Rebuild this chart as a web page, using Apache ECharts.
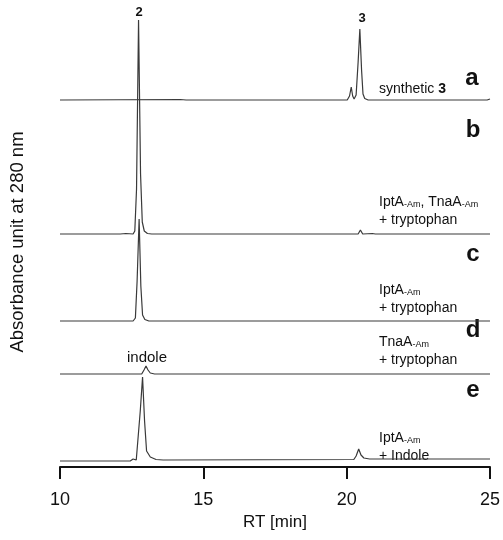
<!DOCTYPE html>
<html>
<head>
<meta charset="utf-8">
<script src="https://cdn.jsdelivr.net/npm/echarts@6/dist/echarts.min.js"></script>
<style>
  html, body { margin: 0; padding: 0; background: #fff; }
  #chart { width: 503px; height: 540px; }
</style>
</head>
<body>
<div id="chart"></div>
<script>
// x ticks (RT in min)
var xTicks = [10, 15, 20, 25];

// chromatogram traces, [RT, signal above own baseline]
var traceA = [[10, 0], [14.2, 0.5], [14.4, 0], [20.02, 0], [20.1, 4], [20.16, 13], [20.21, 4], [20.26, 1],
  [20.33, 5], [20.4, 38], [20.46, 71], [20.52, 30], [20.57, 6], [20.63, 1.5], [20.75, 0], [24.9, 0], [25, 1]];
var traceB = [[10, 0], [12.0, 0], [12.05, 1], [12.1, 0], [12.3, 0.5], [12.55, 0], [12.61, 3], [12.67, 45],
  [12.74, 214], [12.81, 60], [12.87, 12], [12.94, 3], [13.05, 0.5], [13.2, 0], [15.2, 0], [15.25, 1], [15.3, 0],
  [20.4, 0], [20.48, 4], [20.56, 0], [20.9, 0.5], [21.0, 0], [25, 0]];
var traceC = [[10, 0], [12.55, 0], [12.63, 3], [12.69, 40], [12.76, 102], [12.82, 35], [12.88, 6],
  [12.96, 1.5], [13.1, 0], [20.45, 0], [20.5, -1], [20.55, 0], [25, 0]];
var traceD = [[10, 0], [12.85, 0], [12.93, 4], [13.0, 8], [13.07, 4], [13.15, 1], [13.3, 0],
  [20.45, 0], [20.5, -1], [20.55, 0], [25, 0]];
var traceE = [[10, 0], [12.45, 0], [12.55, 2], [12.6, 3], [12.66, 1], [12.72, 3], [12.8, 50], [12.88, 84],
  [12.95, 40], [13.02, 10], [13.15, 4], [13.35, 1.5], [13.6, 1], [20.25, 1.5], [20.33, 5], [20.42, 12],
  [20.5, 6], [20.6, 3], [20.8, 2], [25, 2]];

var traces = [traceA, traceB, traceC, traceD, traceE];
// stacking offsets of each trace (same units as the signal)
var offsets = [367, 233, 146, 93, 6];

var chart = echarts.init(document.getElementById('chart'));

var series = traces.map(function (t, i) {
  return {
    type: 'line',
    data: t.map(function (p) { return [p[0], p[1] + offsets[i]]; }),
    showSymbol: false,
    smooth: false,
    lineStyle: { color: '#3a3a3a', width: 1.2 },
    z: 2
  };
});

var annot = { fontFamily: 'Liberation Sans, Arial', fontSize: 14, fill: '#111' };
var rich = {
  sub: { fontSize: 9, fontFamily: 'Liberation Sans, Arial', verticalAlign: 'bottom', padding: [6, 0, 0, 0] },
  n: { fontSize: 14, fontFamily: 'Liberation Sans, Arial' },
  b: { fontSize: 14, fontFamily: 'Liberation Sans, Arial', fontWeight: 'bold' }
};

function txt(x, y, s, extra) {
  var st = Object.assign({ text: s, rich: rich }, annot, extra || {});
  return { type: 'text', x: x, y: y, style: st };
}

var panelLetters = [['a', 472, 78], ['b', 473, 130], ['c', 473, 254], ['d', 473, 330], ['e', 473, 390]];

var graphics = panelLetters.map(function (l) {
  return {
    type: 'text', x: l[1], y: l[2],
    style: { text: l[0], fontFamily: 'Liberation Sans, Arial', fontWeight: 'bold', fontSize: 24,
      fill: '#111', align: 'center', verticalAlign: 'middle' }
  };
});

graphics = graphics.concat([
  txt(379, 89, '{n|synthetic }{b|3}', { verticalAlign: 'middle' }),
  txt(379, 202, '{n|IptA}{sub|-Am}{n|, TnaA}{sub|-Am}', { verticalAlign: 'middle' }),
  txt(379, 220, '+ tryptophan', { verticalAlign: 'middle' }),
  txt(379, 290, '{n|IptA}{sub|-Am}', { verticalAlign: 'middle' }),
  txt(379, 308, '+ tryptophan', { verticalAlign: 'middle' }),
  txt(379, 342, '{n|TnaA}{sub|-Am}', { verticalAlign: 'middle' }),
  txt(379, 360, '+ tryptophan', { verticalAlign: 'middle' }),
  txt(379, 438, '{n|IptA}{sub|-Am}', { verticalAlign: 'middle' }),
  txt(379, 456, '+ Indole', { verticalAlign: 'middle' }),
  txt(362, 18, '3', { fontWeight: 'bold', fontSize: 13, align: 'center', verticalAlign: 'middle', rich: null }),
  txt(139, 12, '2', { fontWeight: 'bold', fontSize: 13, align: 'center', verticalAlign: 'middle', rich: null }),
  txt(147, 358, 'indole', { fontSize: 15, align: 'center', verticalAlign: 'middle', rich: null }),
  {
    type: 'text', x: 18, y: 242, rotation: Math.PI / 2,
    style: { text: 'Absorbance unit at 280 nm', fontFamily: 'Liberation Sans, Arial', fontSize: 18.5,
      fill: '#111', align: 'center', verticalAlign: 'middle' }
  }
]);

var option = {
  animation: false,
  grid: { left: 60, right: 10, top: 0, bottom: 73 },
  xAxis: {
    type: 'value',
    min: xTicks[0],
    max: xTicks[xTicks.length - 1],
    interval: 5,
    name: 'RT [min]',
    nameLocation: 'middle',
    nameGap: 42,
    nameTextStyle: { fontFamily: 'Liberation Sans, Arial', fontSize: 17, color: '#111' },
    axisLine: { lineStyle: { color: '#111', width: 2 } },
    axisTick: { length: 12, lineStyle: { color: '#111', width: 2 } },
    axisLabel: { margin: 24, fontFamily: 'Liberation Sans, Arial', fontSize: 18, color: '#111' },
    splitLine: { show: false }
  },
  yAxis: {
    type: 'value',
    min: 0,
    max: 467,
    show: false
  },
  graphic: graphics,
  series: series
};

chart.setOption(option);
</script>
</body>
</html>
